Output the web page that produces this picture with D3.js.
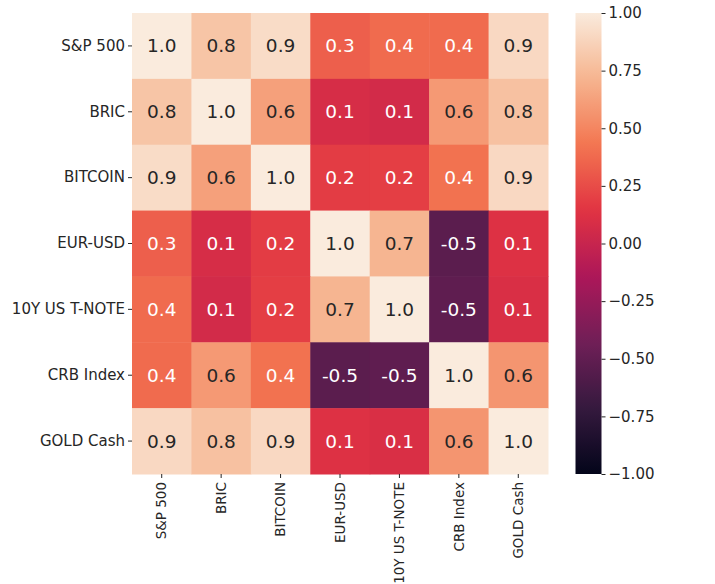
<!DOCTYPE html>
<html lang="en">
<head>
<meta charset="utf-8">
<title>Correlation heatmap</title>
<script src="https://d3js.org/d3.v7.min.js"></script>
<style>
    body { margin: 0; background: #fff; }
    text { font-family: "DejaVu Sans", sans-serif; fill: #262626; }
</style>
</head>
<body>
<svg id="chart" width="715" height="584"></svg>
<script>
// data
const labels = ["S&P 500", "BRIC", "BITCOIN", "EUR-USD", "10Y US T-NOTE", "CRB Index", "GOLD Cash"];
const rowSP   = [1.00, 0.80, 0.92, 0.33, 0.38, 0.38, 0.90];
const rowBRIC = [0.80, 1.00, 0.62, 0.08, 0.06, 0.59, 0.78];
const rowBTC  = [0.92, 0.62, 1.00, 0.18, 0.19, 0.41, 0.90];
const rowEUR  = [0.33, 0.08, 0.18, 1.00, 0.72, -0.53, 0.12];
const rowTN   = [0.38, 0.06, 0.19, 0.72, 1.00, -0.51, 0.10];
const rowCRB  = [0.38, 0.59, 0.41, -0.53, -0.51, 1.00, 0.57];
const rowGOLD = [0.90, 0.78, 0.90, 0.12, 0.10, 0.57, 1.00];
const rows = [rowSP, rowBRIC, rowBTC, rowEUR, rowTN, rowCRB, rowGOLD];
const cbTicks = [-1, -0.75, -0.5, -0.25, 0, 0.25, 0.5, 0.75, 1];

// rocket colormap (approx.)
const rocketStops = ["#03051a", "#35193e", "#701f57", "#ad1759", "#e13342", "#f37651", "#f6b48f", "#faebdd"];
const rocket = d3.scaleLinear()
    .domain(rocketStops.map((c, i) => i / (rocketStops.length - 1)))
    .range(rocketStops)
    .interpolate(d3.interpolateRgb);
const color = v => rocket((v + 1) / 2);

const svg = d3.select("#chart");

// heatmap area
const m = { left: 132, right: 548, top: 13, bottom: 474 };

const x = d3.scaleBand().domain(labels).range([m.left, m.right]);
const y = d3.scaleBand().domain(labels).range([m.top, m.bottom]);

const cells = [];
rows.forEach((r, i) => r.forEach((v, j) => cells.push({ row: labels[i], col: labels[j], v })));

svg.append("g").selectAll("rect")
    .data(cells)
    .join("rect")
    .attr("x", d => x(d.col))
    .attr("y", d => y(d.row))
    .attr("width", x.bandwidth() + 0.5)
    .attr("height", y.bandwidth() + 0.5)
    .attr("fill", d => color(d.v));

// annotations, light or dark text like seaborn
svg.append("g").selectAll("text")
    .data(cells)
    .join("text")
    .attr("x", d => x(d.col) + x.bandwidth() / 2)
    .attr("y", d => y(d.row) + y.bandwidth() / 2)
    .attr("text-anchor", "middle")
    .attr("dominant-baseline", "central")
    .style("font-size", "18.5px")
    .style("fill", d => {
        const c = d3.rgb(color(d.v));
        const lin = u => { u /= 255; return u <= 0.03928 ? u / 12.92 : Math.pow((u + 0.055) / 1.055, 2.4); };
        const lum = 0.2126 * lin(c.r) + 0.7152 * lin(c.g) + 0.0722 * lin(c.b);
        return lum > 0.408 ? "#262626" : "#fff";
    })
    .text(d => d.v.toFixed(1));

// axes
const yAxis = svg.append("g")
    .attr("transform", `translate(${m.left},0)`)
    .call(d3.axisLeft(y).tickSize(4).tickPadding(3));
yAxis.select(".domain").remove();
yAxis.selectAll("line").attr("stroke", "#262626");
yAxis.selectAll("text").style("font-size", "15px");

const xAxis = svg.append("g")
    .attr("transform", `translate(0,${m.bottom})`)
    .call(d3.axisBottom(x).tickSize(4).tickPadding(3));
xAxis.select(".domain").remove();
xAxis.selectAll("line").attr("stroke", "#262626");
xAxis.selectAll("text")
    .style("font-size", "13.5px")
    .attr("transform", "rotate(-90)")
    .attr("text-anchor", "end")
    .attr("x", -8)
    .attr("y", 0)
    .attr("dy", "0.35em");

// colorbar
const cbLeft = 575.5, cbWidth = 26;
const cbScale = d3.scaleLinear().domain([-1, 1]).range([m.bottom, m.top]);

const grad = svg.append("defs").append("linearGradient")
    .attr("id", "cbgrad")
    .attr("x1", "0").attr("y1", "1").attr("x2", "0").attr("y2", "0");
grad.selectAll("stop")
    .data(d3.range(0, 1.0001, 0.02))
    .join("stop")
    .attr("offset", d => d)
    .attr("stop-color", d => rocket(d));

svg.append("rect")
    .attr("x", cbLeft)
    .attr("y", m.top)
    .attr("width", cbWidth)
    .attr("height", m.bottom - m.top)
    .attr("fill", "url(#cbgrad)");

const cbAxis = svg.append("g")
    .attr("transform", `translate(${cbLeft + cbWidth},0)`)
    .call(d3.axisRight(cbScale).tickValues(cbTicks).tickFormat(d3.format(".2f")).tickSize(4).tickPadding(3));
cbAxis.select(".domain").remove();
cbAxis.selectAll("line").attr("stroke", "#262626");
cbAxis.selectAll("text").style("font-size", "15px");
</script>
</body>
</html>
